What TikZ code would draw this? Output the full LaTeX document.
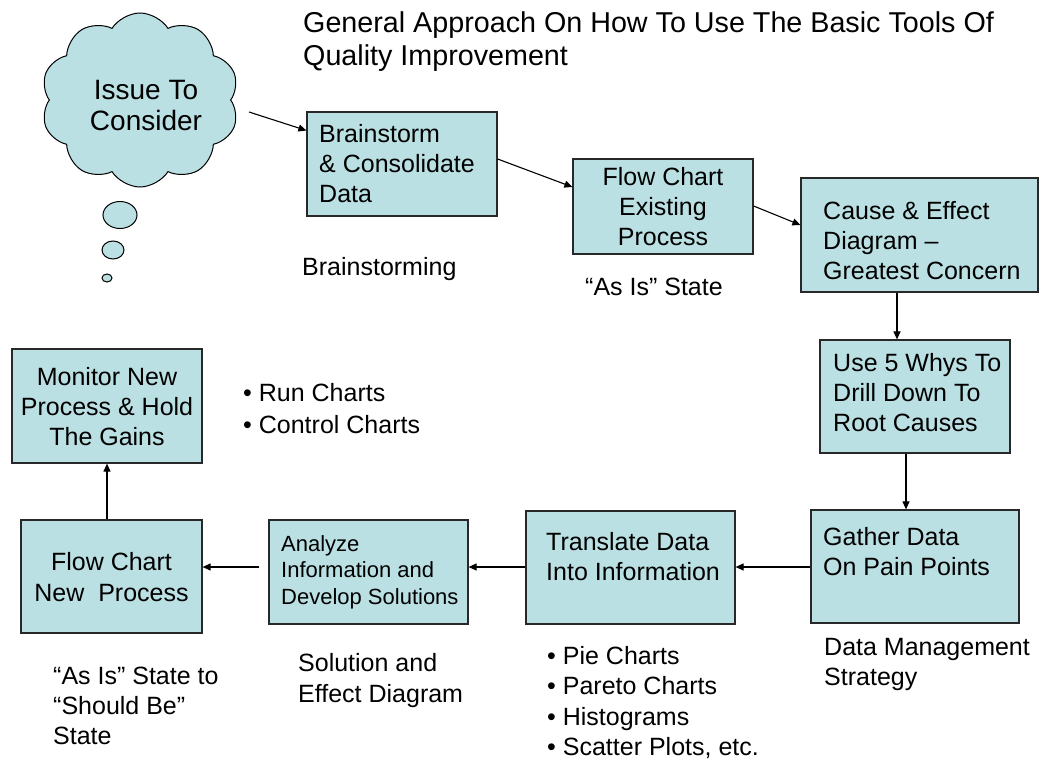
\documentclass[tikz,border=0pt]{standalone}
\usepackage{fontspec}
\setmainfont{Liberation Sans}
\usetikzlibrary{shapes.symbols,fit,arrows.meta,calc}

\definecolor{boxfill}{RGB}{187,224,227}
\definecolor{boxline}{RGB}{40,40,40}

\tikzset{
  qbox/.style={draw=boxline, line width=1.2pt, fill=boxfill, inner sep=0pt},
  bubble/.style={draw=black, line width=1pt, fill=boxfill},
  flow/.style={draw=black, line width=1.1pt, -{Triangle[length=8pt,width=7pt]}},
  txt/.style={inner sep=0pt, font=\fontsize{25}{30}\selectfont},
  ltxt/.style={txt, anchor=north west, align=left},
  ctxt/.style={txt, anchor=north, align=center}
}

\begin{document}
\begin{tikzpicture}[x=1pt,y=-1pt]
\useasboundingbox (0,0) rectangle (1044,760);

% heading
\node[ltxt, font=\fontsize{28.7}{33}\selectfont] (title) at (303,9.5)
  {\strut General Approach On How To Use The Basic Tools Of\\Quality Improvement};

% thought cloud with its trailing bubbles
\node[cloud, cloud puffs=10, cloud puff arc=115, aspect=1.15, draw=black,
      line width=1pt, fill=boxfill, minimum width=198pt, minimum height=174pt,
      inner sep=0pt] (issue) at (140,100) {};
\node[ctxt, font=\fontsize{28}{31}\selectfont] (issuet) at (146,77.3)
  {\strut Issue To\\Consider};
\draw[bubble] (120,215) ellipse (17 and 13.5) coordinate (b1);
\draw[bubble] (113,250) ellipse (11 and 9) coordinate (b2);
\draw[bubble] (107,278) ellipse (5 and 4) coordinate (b3);
\coordinate (issueout) at (249,112);

% process boxes
\node[qbox, fit={(307,112) (497,216)}] (brain) {};
\node[ltxt] (braint) at (319,121.6) {\strut Brainstorm\\\& Consolidate\\Data};

\node[qbox, fit={(573,159) (753,254)}] (flowold) {};
\node[ctxt] (flowoldt) at (663,164.6) {\strut Flow Chart\\Existing\\Process};

\node[qbox, fit={(801,178) (1038,292)}] (cause) {};
\node[ltxt] (causet) at (823,198.2) {\strut Cause \& Effect\\Diagram --\\Greatest Concern};

\node[qbox, fit={(820,340) (1010,453)}] (whys) {};
\node[ltxt] (whyst) at (833,350.2) {\strut Use 5 Whys To\\Drill Down To\\Root Causes};

\node[qbox, fit={(811,510) (1019,623)}] (gather) {};
\node[ltxt] (gathert) at (823,524.2) {\strut Gather Data\\On Pain Points};

\node[qbox, fit={(526,511) (735,624)}] (transl) {};
\node[ltxt] (translt) at (546,529.2) {\strut Translate Data\\Into Information};

\node[qbox, fit={(269,520) (468,624)}] (analyze) {};
\node[ltxt, font=\fontsize{22}{26.5}\selectfont] (analyzet) at (281,532.3)
  {\strut Analyze\\Information and\\Develop Solutions};

\node[qbox, fit={(21,520) (202,633)}] (flownew) {};
\node[ctxt, font=\fontsize{25}{31}\selectfont] (flownewt) at (111.5,548.5)
  {\strut Flow Chart\\New\ \ Process};

\node[qbox, fit={(12,349) (202,463)}] (monitor) {};
\node[ctxt] (monitort) at (107,364.2) {\strut Monitor New\\Process \& Hold\\The Gains};

% notes beside the boxes
\node[ltxt] (n1) at (302,254.2) {\strut Brainstorming};
\node[ltxt] (n2) at (585,274.2) {\strut “As Is” State};
\node[ltxt, font=\fontsize{25}{32}\selectfont] (n3) at (243,378.8)
  {\strut • Run Charts\\• Control Charts};
\node[ltxt] (n4) at (824,634.2) {\strut Data Management\\Strategy};
\node[ltxt, font=\fontsize{25}{30.3}\selectfont] (n5) at (547,643)
  {\strut • Pie Charts\\• Pareto Charts\\• Histograms\\• Scatter Plots, etc.};
\node[ltxt, font=\fontsize{25}{31}\selectfont] (n6) at (298,649.5)
  {\strut Solution and\\Effect Diagram};
\node[ltxt] (n7) at (53,663.2) {\strut “As Is” State to\\“Should Be”\\State};

% connectors
\draw[flow] (issueout) -- (brain.west |- 0,130.5);
\draw[flow] (brain.east |- 0,159) -- (flowold.west |- 0,187);
\draw[flow] (flowold.east |- 0,206) -- (cause.west |- 0,225);
\draw[flow] (cause.south -| 897,0) -- (whys.north -| 897,0);
\draw[flow] (whys.south -| 906,0) -- (gather.north -| 906,0);
\draw[flow] (gather.west |- 0,567) -- (transl.east |- 0,567);
\draw[flow] (transl.west |- 0,567) -- (analyze.east |- 0,567);
\draw[flow, shorten <=9pt] (analyze.west |- 0,567) -- (flownew.east |- 0,567);
\draw[flow] (flownew.north -| 107,0) -- (monitor.south -| 107,0);
\end{tikzpicture}
\end{document}
